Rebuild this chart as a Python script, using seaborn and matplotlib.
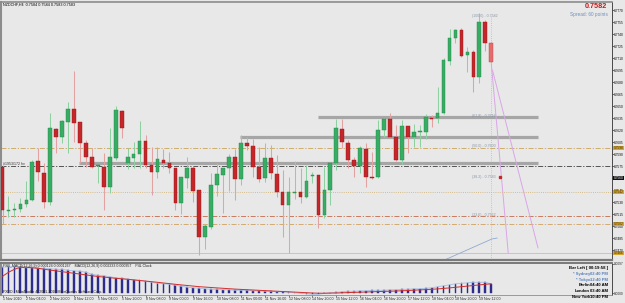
import matplotlib
matplotlib.use("Agg")
import matplotlib.pyplot as plt
import numpy as np
import pandas as pd
import seaborn as sns

# ---------------- data ----------------
title_text = "NZDCHF,H4  0.7584 0.7584 0.7583 0.7583"

opens = [0.75738, 0.75188, 0.75200, 0.75213, 0.75275, 0.75325, 0.75813, 0.75663, 0.75300, 0.76213,
         0.76113, 0.76300, 0.76463, 0.76300, 0.76038, 0.75863, 0.75750, 0.75738, 0.75488, 0.75850,
         0.76438, 0.75788, 0.75850, 0.75900, 0.76063, 0.75763, 0.75675, 0.75825, 0.75788, 0.75725,
         0.75288, 0.75600, 0.75725, 0.75450, 0.74863, 0.74988, 0.75513, 0.75638, 0.75725, 0.75863,
         0.75588, 0.76038, 0.76000, 0.75738, 0.75600, 0.75850, 0.75650, 0.75425, 0.75263, 0.75413,
         0.75425, 0.75363, 0.75625, 0.75638, 0.75138, 0.75450, 0.75788, 0.76213, 0.76038, 0.75825,
         0.75750, 0.75963, 0.75613, 0.75613, 0.76200, 0.76338, 0.76113, 0.75825, 0.76250, 0.76113,
         0.76175, 0.76175, 0.76350, 0.76350, 0.76413, 0.77063, 0.77350, 0.77450, 0.77138, 0.77175,
         0.76863, 0.77550, 0.77288]
highs = [0.75763, 0.75375, 0.75288, 0.75350, 0.75563, 0.75825, 0.75975, 0.75788, 0.76413, 0.76225,
         0.76325, 0.76550, 0.76938, 0.76300, 0.76075, 0.75975, 0.75763, 0.75913, 0.76225, 0.76500,
         0.76450, 0.75975, 0.76050, 0.76313, 0.76138, 0.75988, 0.75988, 0.75963, 0.75925, 0.75725,
         0.75613, 0.75863, 0.75750, 0.75450, 0.75025, 0.75663, 0.75788, 0.75725, 0.75900, 0.75963,
         0.76138, 0.76113, 0.76088, 0.75988, 0.76038, 0.76013, 0.75888, 0.75700, 0.75613, 0.75813,
         0.75725, 0.75763, 0.75675, 0.75638, 0.75738, 0.75800, 0.76338, 0.76338, 0.76075, 0.75863,
         0.76000, 0.76038, 0.75925, 0.76325, 0.76350, 0.76413, 0.76263, 0.76325, 0.76250, 0.76275,
         0.76263, 0.76400, 0.76388, 0.76738, 0.77100, 0.77463, 0.77463, 0.77475, 0.77238, 0.77200,
         0.77663, 0.77575, 0.77300]
lows = [0.75025, 0.75113, 0.75113, 0.75175, 0.75238, 0.75313, 0.75563, 0.75225, 0.75263, 0.75913,
        0.76038, 0.75913, 0.76050, 0.75788, 0.75738, 0.75725, 0.75538, 0.75200, 0.75413, 0.75825,
        0.76100, 0.75713, 0.75725, 0.75725, 0.75725, 0.75388, 0.75600, 0.75725, 0.75663, 0.75200,
        0.75150, 0.75475, 0.75300, 0.74638, 0.74713, 0.74963, 0.75375, 0.75163, 0.75438, 0.75325,
        0.75513, 0.75950, 0.75613, 0.75550, 0.75550, 0.75588, 0.75363, 0.74863, 0.74663, 0.75338,
        0.75288, 0.75350, 0.75538, 0.74975, 0.75100, 0.75263, 0.75700, 0.75975, 0.75725, 0.75613,
        0.75663, 0.75488, 0.75588, 0.75600, 0.76113, 0.76113, 0.75813, 0.75775, 0.75913, 0.75988,
        0.75988, 0.76088, 0.76238, 0.76288, 0.76400, 0.77013, 0.77288, 0.77113, 0.76925, 0.76675,
        0.76788, 0.77188, 0.77050]
closes = [0.75200, 0.75200, 0.75213, 0.75275, 0.75325, 0.75800, 0.75675, 0.75300, 0.76225, 0.76113,
          0.76313, 0.76463, 0.76288, 0.76038, 0.75863, 0.75738, 0.75763, 0.75488, 0.75863, 0.76450,
          0.76225, 0.75863, 0.75900, 0.76063, 0.75763, 0.75675, 0.75838, 0.75788, 0.75725, 0.75288,
          0.75613, 0.75725, 0.75438, 0.74863, 0.75000, 0.75513, 0.75650, 0.75725, 0.75863, 0.75588,
          0.76038, 0.76000, 0.75738, 0.75588, 0.75850, 0.75663, 0.75425, 0.75263, 0.75425, 0.75425,
          0.75363, 0.75563, 0.75638, 0.75138, 0.75450, 0.75788, 0.76225, 0.76050, 0.75825, 0.75750,
          0.75975, 0.75613, 0.75600, 0.76200, 0.76338, 0.76113, 0.75825, 0.76250, 0.76113, 0.76175,
          0.76188, 0.76363, 0.76338, 0.76413, 0.77075, 0.77350, 0.77450, 0.77125, 0.77175, 0.76863,
          0.77550, 0.77288, 0.77050]

macd_hist = [0.00858, 0.00875, 0.00875, 0.00858, 0.00842, 0.00842, 0.00825, 0.00825, 0.00809, 0.00792,
             0.00792, 0.00759, 0.00743, 0.00726, 0.00693, 0.00627, 0.00594, 0.00578, 0.00545, 0.00512,
             0.00495, 0.00462, 0.00446, 0.00429, 0.00396, 0.00363, 0.00330, 0.00314, 0.00297, 0.00264,
             0.00231, 0.00198, 0.00182, 0.00165, 0.00149, 0.00132, 0.00132, 0.00116, 0.00116, 0.00099,
             0.00099, 0.00099, 0.00083, 0.00083, 0.00066, 0.00066, 0.00050, 0.00050, 0.00033, 0.00017,
             0.00000, -0.00017, -0.00033, -0.00033, 0.00000, 0.00017, 0.00033, 0.00050, 0.00066, 0.00066,
             0.00083, 0.00083, 0.00099, 0.00099, 0.00099, 0.00116, 0.00116, 0.00132, 0.00132, 0.00149,
             0.00149, 0.00165, 0.00182, 0.00215, 0.00248, 0.00281, 0.00314, 0.00330, 0.00347, 0.00363,
             0.00363, 0.00363, 0.00314]
macd_signal = [0.00561, 0.00693, 0.00792, 0.00858, 0.00858, 0.00842, 0.00825, 0.00792, 0.00766, 0.00739,
               0.00713, 0.00686, 0.00660, 0.00634, 0.00607, 0.00581, 0.00554, 0.00535, 0.00515, 0.00495,
               0.00479, 0.00462, 0.00442, 0.00422, 0.00403, 0.00383, 0.00363, 0.00340, 0.00320, 0.00297,
               0.00277, 0.00257, 0.00238, 0.00218, 0.00205, 0.00191, 0.00178, 0.00165, 0.00152, 0.00139,
               0.00129, 0.00119, 0.00109, 0.00099, 0.00089, 0.00079, 0.00069, 0.00059, 0.00050, 0.00040,
               0.00030, 0.00020, 0.00010, 0.00003, 0.00003, 0.00007, 0.00010, 0.00017, 0.00023, 0.00030,
               0.00036, 0.00043, 0.00050, 0.00056, 0.00063, 0.00069, 0.00076, 0.00083, 0.00092, 0.00102,
               0.00112, 0.00122, 0.00132, 0.00145, 0.00162, 0.00178, 0.00198, 0.00218, 0.00238, 0.00257,
               0.00277, 0.00297, 0.00314]

time_labels = ["1 Nov 2010", "2 Nov 04:00", "2 Nov 20:00", "4 Nov 12:00", "5 Nov 04:00",
               "5 Nov 20:00", "8 Nov 08:00", "9 Nov 00:00", "9 Nov 16:00", "10 Nov 08:00",
               "11 Nov 00:00", "11 Nov 16:00", "12 Nov 08:00", "14 Nov 20:00", "15 Nov 12:00",
               "16 Nov 04:00", "16 Nov 20:00", "17 Nov 12:00", "18 Nov 04:00", "18 Nov 20:00",
               "19 Nov 12:00"]
time_label_bars = [0, 4, 8, 12, 16, 20, 24, 28, 32, 36, 40, 44, 48, 52, 56, 60, 64, 68, 72, 76, 80]

price_ticks = [0.7770, 0.7755, 0.7740, 0.7725, 0.7710, 0.7695, 0.7680, 0.7665, 0.7650, 0.7635,
               0.7620, 0.7605, 0.7590, 0.7575, 0.7560, 0.7545, 0.7530, 0.7515, 0.7500, 0.7485, 0.7470]

# support / resistance rectangles (thick grey)
sr_prices = [0.763625, 0.761125, 0.757875]
sr_start_bars = [52.9, 39.85, 12.8]
sr_end_bar = 89.85

# horizontal level lines
hline_prices = [0.75975, 0.75750, 0.75425, 0.75125, 0.75025, 0.746625]
hline_colors = ["#c9a45a", "#3c3c3c", "#cfae6e", "#c46a4a", "#cfa060", "#d9bd8a"]
hline_styles = [(0, (6, 2, 1.5, 2)), (0, (6, 2, 1.5, 2)), (0, (1, 1.6)),
                (0, (6, 2, 1.5, 2)), (0, (6, 2, 1.5, 2)), "-"]

# fibonacci labels
fib_labels = ["(100.0) - 0.7582", "(61.8) - 0.7616", "(50.0) - 0.7600", "(38.2) - 0.7583", "(23.6) - 0.7562"]
fib_prices = [0.77625, 0.76375, 0.76000, 0.756125, 0.751375]
fib_label_bar = 78.8

# right-axis highlighted labels
gold_prices = [0.75975, 0.75425, 0.75025, 0.746625]
bid_price = 0.75600

# drawn lines
trend_a_bars = [82.0, 84.85]
trend_a_prices = [0.770375, 0.746625]
trend_b_bars = [82.2, 89.85]
trend_b_prices = [0.76950, 0.74725]
env_bars = [73.4, 82.1, 83.0]
env_prices = [0.74550, 0.748375, 0.74850]

clock_cities = ["* Sydney", "* Tokyo", "Berlin", "London", "New York"]
clock_times = ["02:40 PM", "12:40 PM", "04:40 AM", "03:40 AM", "10:40 PM"]
clock_colors = ["#5a82c0", "#5a82c0", "black", "black", "black"]

# ---------------- style ----------------
BG = "#e8e8e8"
sns.set_style("white", {"axes.facecolor": BG, "figure.facecolor": BG})
plt.rcParams["font.family"] = ["Liberation Sans", "DejaVu Sans"]

W, H = 625, 303
fig = plt.figure(figsize=(W / 100, H / 100), dpi=100, facecolor=BG)
ax = fig.add_axes([1.5 / W, (H - 260) / H, 610.5 / W, 258.5 / H])
axm = fig.add_axes([1.5 / W, (H - 295) / H, 610.5 / W, 32.5 / H])

df = pd.DataFrame({"bar": np.arange(len(opens)), "open": opens, "high": highs,
                   "low": lows, "close": closes})
df["up"] = df["close"] >= df["open"]
df["body_lo"] = df[["open", "close"]].min(axis=1)
df["body_h"] = (df["close"] - df["open"]).abs().clip(lower=0.00012)
last = df["bar"] == df["bar"].max()
df["fill"] = np.where(df["up"], "#36ad63", "#c4262a")
df["edge"] = np.where(df["up"], "#23864a", "#9c1518")
df["wick"] = np.where(df["up"], "#8fd0a2", "#e3a2a2")
df.loc[last, "fill"] = "#e46c6c"
df.loc[last, "edge"] = "#c24444"

# level lines (drawn first, behind candles)
for p, c, s in zip(hline_prices, hline_colors, hline_styles):
    ax.axhline(p, color=c, ls=s, lw=0.6, zorder=1)
ax.hlines(sr_prices, sr_start_bars, sr_end_bar, colors="#a6a6a6", lw=2.3, zorder=1.5)

# vertical dotted line at last bar
ax.plot([df["bar"].iloc[-1]] * 2, [fib_prices[0], 0.7450], color="#d6b676",
        ls=(0, (1, 1.6)), lw=0.6, zorder=1)

# candles
ax.vlines(df["bar"], df["low"], df["high"], colors=df["wick"], lw=0.75, zorder=2)
ax.bar(df["bar"], df["body_h"], bottom=df["body_lo"], width=0.62, color=df["fill"],
       edgecolor=df["edge"], linewidth=0.3, zorder=3)

# drawn trend lines
sns.lineplot(x=trend_a_bars, y=trend_a_prices, ax=ax, color="#d9a6e6", lw=0.7, zorder=2)
sns.lineplot(x=trend_b_bars, y=trend_b_prices, ax=ax, color="#d9a6e6", lw=0.7, zorder=2)
sns.lineplot(x=env_bars, y=env_prices, ax=ax, color="#8fa9cf", lw=0.6, zorder=2)

# fib labels
for lab, p in zip(fib_labels, fib_prices):
    ax.text(fib_label_bar, p, lab, fontsize=2.6, color="#8a96a6", va="center", ha="left", zorder=4)
ax.plot([fib_label_bar + 4.6], [fib_prices[3]], marker="s", ms=1.6, color="#c22a2a", zorder=4)

ax.set_xlim(-0.17, 102.26)
ax.set_ylim(0.74575, 0.778063)
ax.set_xticks([])
ax.yaxis.tick_right()
ax.set_yticks(price_ticks)
ax.set_yticklabels([f"{t:.4f}" for t in price_ticks])
ax.tick_params(axis="y", right=True, length=1.2, width=0.4, pad=0.5, labelsize=2.35, colors="black")
for side, sp in ax.spines.items():
    sp.set_color("#8c8c8c")
    sp.set_linewidth(0.6)
ax.spines["right"].set_color("#303030")
ax.spines["left"].set_linewidth(1.5)
ax.spines["top"].set_linewidth(1.2)
ax.spines["bottom"].set_color("#7a7a7a")
ax.spines["bottom"].set_linewidth(1.6)

# right-axis boxes
for p in gold_prices:
    ax.annotate(f"{p:.4f}", xy=(1.0, p), xycoords=("axes fraction", "data"),
                xytext=(1.0, 0), textcoords="offset points", fontsize=2.35, va="center", ha="left",
                color="#3a2a00", bbox=dict(boxstyle="square,pad=0.15", fc="#d4a632", ec="none"),
                annotation_clip=False, zorder=5)
ax.annotate(f"{bid_price:.4f}", xy=(1.0, bid_price), xycoords=("axes fraction", "data"),
            xytext=(1.0, 0), textcoords="offset points", fontsize=2.35, va="center", ha="left",
            color="white", bbox=dict(boxstyle="square,pad=0.15", fc="#101010", ec="none"),
            annotation_clip=False, zorder=5)

# ---------------- MACD panel ----------------
sns.barplot(x=df["bar"], y=macd_hist, native_scale=True, width=0.3, color="#2c2c8c",
            saturation=1, errorbar=None, edgecolor="#2c2c8c", linewidth=0.3, ax=axm, zorder=2)
sns.lineplot(x=df["bar"], y=macd_hist, ax=axm, color="#a7bde2", lw=0.6, zorder=3)
sns.lineplot(x=df["bar"], y=macd_signal, ax=axm, color="#d42c2c", lw=0.7, zorder=4)
axm.set_xlim(-0.17, 102.26)
axm.set_ylim(-0.00056, 0.01016)
axm.set_xlabel("")
axm.set_ylabel("")
axm.yaxis.tick_right()
axm.set_yticks([0.0097, 0.0])
axm.set_yticklabels(["0.0097", "0.0000"])
axm.tick_params(axis="y", right=True, length=1.2, width=0.4, pad=0.5, labelsize=2.35)
axm.set_xticks(time_label_bars)
axm.set_xticklabels(time_labels, ha="left")
axm.tick_params(axis="x", bottom=True, length=1.2, width=0.4, pad=0.6, labelsize=2.6)
for side, sp in axm.spines.items():
    sp.set_color("#8c8c8c")
    sp.set_linewidth(0.6)
axm.spines["right"].set_color("#303030")
axm.spines["left"].set_linewidth(1.5)
axm.spines["top"].set_color("#7a7a7a")
axm.spines["top"].set_linewidth(1.4)
ax.set_ylabel("")
ax.set_xlabel("")

# ---------------- texts ----------------
def ftext(x, y, s, **kw):
    fig.text(x / W, 1 - y / H, s, va="center", **kw)

ftext(3, 4.5, title_text, fontsize=2.7, color="black")
ftext(3, 164, "#1953/172 hv", fontsize=2.6, color="#303030")
ftext(607, 7, "0.7582", fontsize=5.2, weight="bold", color="#d41414", ha="right")
ftext(608, 14.5, "Spread: 60 points", fontsize=3.4, color="#6f8fc0", ha="right")
ftext(3, 266.5, "FSB_MACD(12,26,9) 0.000124 0.0001267    MACD(12,26,9) 0.002233 0.000357    P4L Clock",
      fontsize=2.6, color="#202020")
ftext(3, 292, "FXDD - MetaTrader 4, 2001-2010 MetaQuotes Software Corp.", fontsize=2.6, color="#202020")
ftext(608, 268.3, "Bar Left [ 00:19:58 ]", fontsize=3.1, weight="bold", color="black", ha="right")
for i, (city, tm, col) in enumerate(zip(clock_cities, clock_times, clock_colors)):
    yy = 274.3 + i * 5.6
    ftext(590, yy, city, fontsize=3.0, weight="bold", color=col, ha="right")
    ftext(608, yy, tm, fontsize=3.0, weight="bold", color=col, ha="right")

fig.savefig("out.png", dpi=100, facecolor=BG)
